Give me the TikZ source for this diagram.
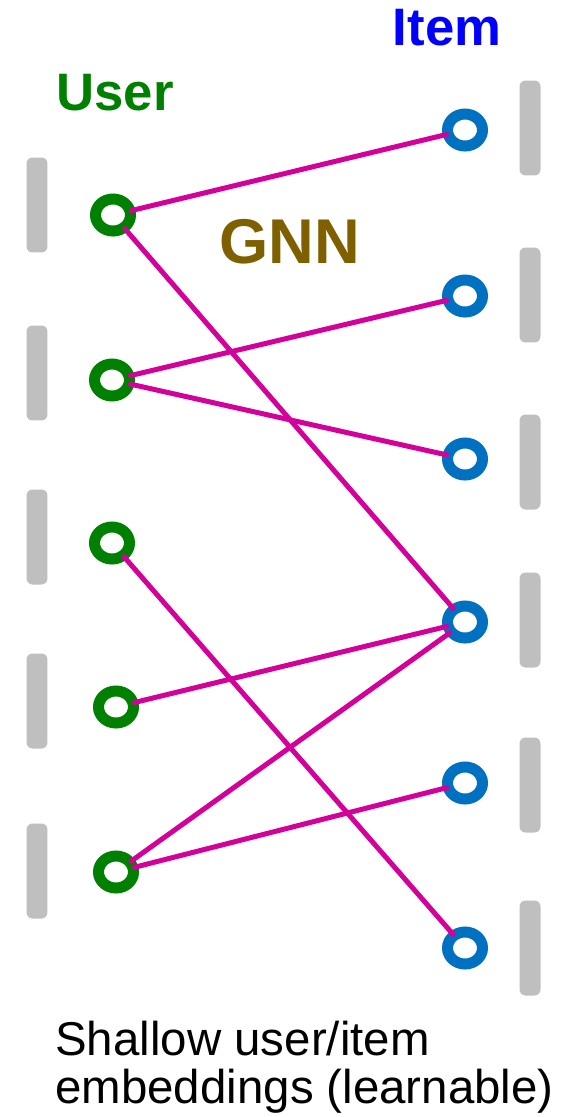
\documentclass[tikz,border=0pt]{standalone}
\usepackage{fontspec}
\setmainfont{Liberation Sans}
\usepackage{tikz}
\usetikzlibrary{positioning,shapes.geometric}
\definecolor{usergreen}{HTML}{008000}
\definecolor{itemblue}{HTML}{0000FF}
\definecolor{ringblue}{HTML}{0070C0}
\definecolor{gnnbrown}{HTML}{7F6000}
\definecolor{edgemag}{HTML}{D4009A}
\definecolor{embgray}{HTML}{BFBFBF}
\tikzset{
  usr/.style={ellipse,draw=usergreen,line width=0.22cm,fill=white,
    minimum width=0.7cm,minimum height=0.64cm,inner sep=0pt},
  itm/.style={ellipse,draw=ringblue,line width=0.22cm,fill=white,
    minimum width=0.7cm,minimum height=0.64cm,inner sep=0pt},
  emb/.style={rectangle,rounded corners=0.12cm,fill=embgray,
    minimum width=0.42cm,minimum height=1.9cm,inner sep=0pt},
  edg/.style={edgemag,line width=0.1cm,line cap=round,
    shorten <=-0.08cm,shorten >=-0.08cm},
  ttl/.style={font=\bfseries\fontsize{30}{30}\selectfont},
  captxt/.style={anchor=base west,font=\fontsize{27}{27}\selectfont,inner sep=0pt},
}
\begin{document}
\begin{tikzpicture}[x=0.02cm,y=-0.02cm]
  \useasboundingbox (0,0) rectangle (574,1117);
  % shallow embeddings
  \foreach \y [count=\i] in {205,373,537,701,871}
    \node[emb] (eu\i) at (37,\y) {};
  \foreach \y [count=\i] in {128,295,462,620,785,948}
    \node[emb] (ei\i) at (530,\y) {};
  % user and item nodes
  \foreach \x/\y [count=\i] in {113/215,112/380,112/543,116/707,116/872}
    \node[usr] (u\i) at (\x,\y) {};
  \foreach \y [count=\i] in {130,296,459,622,783,948}
    \node[itm] (v\i) at (465,\y) {};
  % interactions
  \foreach \a/\b in {1/1,1/4,2/2,2/3,3/6,4/4,5/4,5/5}
    \draw[edg] (u\a) -- (v\b);
  \node[ttl,text=usergreen] (user) at (115,93) {User};
  \node[ttl,text=itemblue] (item) at (447,28) {Item};
  \node[font=\bfseries\fontsize{36}{36}\selectfont,text=gnnbrown] (gnn) at (290,242) {GNN};
  \node[captxt] (cap1) at (55,1055) {Shallow user/item};
  \node[captxt] (cap2) at (55,1103) {embeddings (learnable)};
\end{tikzpicture}
\end{document}
